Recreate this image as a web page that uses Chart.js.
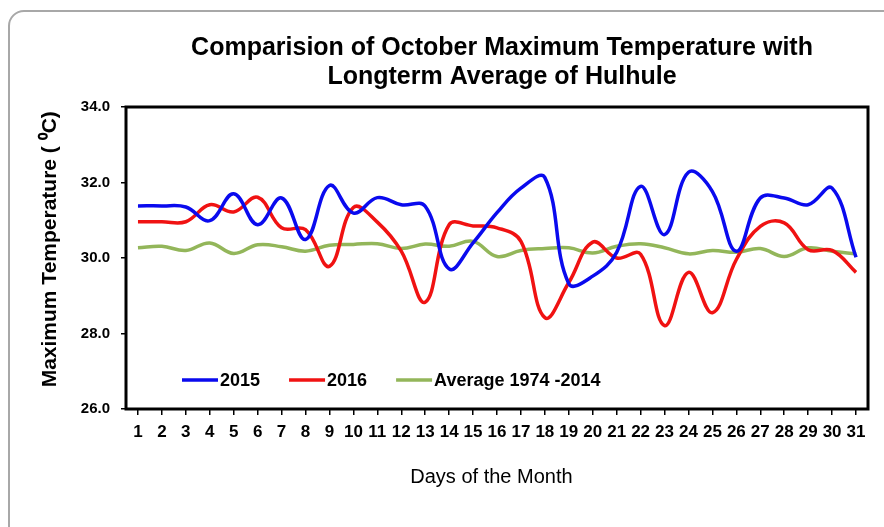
<!DOCTYPE html>
<html>
<head>
<meta charset="utf-8">
<script src="https://cdn.jsdelivr.net/npm/chart.js@4/dist/chart.umd.min.js"></script>
<style>
  body { margin: 0; background: #fff; overflow: hidden; }
  #wrap { position: relative; width: 884px; height: 527px; }
  #frame { position: absolute; left: 8px; top: 10px; width: 900px; height: 540px;
           border: 2px solid #a8a8a8; border-radius: 16px; }
  #myChart { position: absolute; left: 0; top: 0; }
</style>
</head>
<body>
<div id="wrap">
  <div id="frame"></div>
  <canvas id="myChart" width="884" height="527"></canvas>
</div>
<script>
var days = ['1','2','3','4','5','6','7','8','9','10','11','12','13','14','15','16','17','18','19','20','21','22','23','24','25','26','27','28','29','30','31'];
var y2015 = [31.38,31.38,31.35,30.99,31.70,30.88,31.59,30.49,31.92,31.19,31.60,31.41,31.37,29.71,30.40,31.20,31.85,32.13,29.32,29.52,30.15,31.90,30.62,32.27,31.76,30.18,31.59,31.59,31.41,31.85,30.02];
var y2016 = [30.96,30.96,30.96,31.41,31.22,31.61,30.80,30.75,29.78,31.34,30.95,30.18,28.83,30.88,30.85,30.80,30.44,28.42,29.35,30.42,30.00,30.10,28.21,29.62,28.55,29.96,30.84,30.93,30.22,30.20,29.62];
var yAvg = [30.27,30.31,30.20,30.40,30.12,30.35,30.30,30.18,30.34,30.36,30.38,30.25,30.37,30.31,30.44,30.04,30.20,30.25,30.27,30.13,30.31,30.38,30.27,30.11,30.20,30.15,30.25,30.04,30.27,30.18,30.11];
var seriesNames = ['2015', '2016', 'Average 1974 -2014'];
var seriesColors = ['#0a0aee', '#f01212', '#93b65a'];
var titleLines = ['Comparision of October Maximum Temperature with', 'Longterm Average of Hulhule'];

Chart.defaults.font.family = '"Liberation Sans", Arial, sans-serif';
Chart.defaults.color = '#000';

// frame, title and in-plot legend
var extras = {
    id: 'extras',
    afterDraw: function (chart) {
        var ctx = chart.ctx;
        var a = chart.chartArea;
        ctx.save();
        ctx.strokeStyle = '#000';
        ctx.lineWidth = 3;
        ctx.strokeRect(a.left, a.top, a.right - a.left, a.bottom - a.top);

        ctx.fillStyle = '#000';
        ctx.textAlign = 'center';
        ctx.textBaseline = 'middle';
        ctx.font = 'bold 25px "Liberation Sans", Arial, sans-serif';
        var cx = (a.left + a.right) / 2 + 5;
        ctx.fillText(titleLines[0], cx, 48);
        ctx.fillText(titleLines[1], cx, 77);

        ctx.font = 'bold 18px "Liberation Sans", Arial, sans-serif';
        ctx.textAlign = 'left';
        var x = a.left + 56;
        var y = a.bottom - 29;
        chart.data.datasets.forEach(function (ds) {
            ctx.strokeStyle = ds.borderColor;
            ctx.lineWidth = 3.5;
            ctx.beginPath();
            ctx.moveTo(x, y);
            ctx.lineTo(x + 36, y);
            ctx.stroke();
            ctx.fillText(ds.label, x + 38, y + 1);
            x += 38 + ctx.measureText(ds.label).width + 29;
        });
        ctx.restore();
    }
};

new Chart('myChart', {
    type: 'line',
    data: {
        labels: days,
        datasets: [
            { label: seriesNames[0], data: y2015, borderColor: seriesColors[0] },
            { label: seriesNames[1], data: y2016, borderColor: seriesColors[1] },
            { label: seriesNames[2], data: yAvg, borderColor: seriesColors[2] }
        ]
    },
    options: {
        responsive: false,
        animation: false,
        layout: { padding: { left: 34, right: 16, top: 107, bottom: 34 } },
        elements: {
            line: { borderWidth: 3.5, tension: 0.4, fill: false },
            point: { radius: 0 }
        },
        plugins: {
            legend: { display: false },
            title: { display: false },
            tooltip: { enabled: false }
        },
        scales: {
            x: {
                offset: true,
                border: { display: false },
                grid: { drawOnChartArea: false, drawTicks: true, tickLength: 6, color: '#000', lineWidth: 1.5 },
                ticks: { padding: 7, maxRotation: 0, autoSkip: false, font: { size: 17, weight: 'bold' } },
                title: { display: true, text: 'Days of the Month  ', font: { size: 20 } },
                afterFit: function (s) { s.height = 84; }
            },
            y: {
                min: 26, max: 34,
                border: { display: false },
                grid: { drawOnChartArea: false, drawTicks: true, tickLength: 5, color: '#000', lineWidth: 1.5 },
                ticks: {
                    stepSize: 2, padding: 11, font: { size: 15, weight: 'bold' },
                    callback: function (v) { return v.toFixed(1); }
                },
                title: { display: true, text: '   Maximum Temperature ( \u2070C)', font: { size: 21, weight: 'bold' } },
                afterFit: function (s) { s.width = 92; }
            }
        }
    },
    plugins: [extras]
});
</script>
</body>
</html>
